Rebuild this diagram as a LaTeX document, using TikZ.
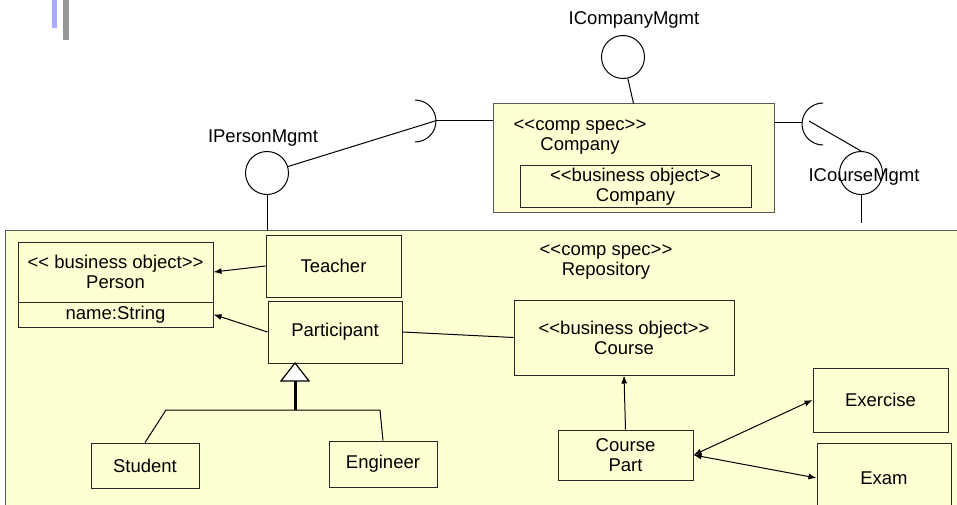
\documentclass[tikz,border=0pt]{standalone}
\usepackage{fontspec}
\setmainfont{Liberation Sans}
\usepackage{tikz}
\usetikzlibrary{arrows.meta, calc, positioning}

\definecolor{specfill}{RGB}{255,255,212}
\definecolor{barblue}{RGB}{170,170,255}
\definecolor{bargray}{RGB}{150,150,150}

% guillemet-free stereotype brackets
\newcommand{\lguil}{<\kern0pt<}
\newcommand{\rguil}{>\kern0pt>}

\begin{document}
\begin{tikzpicture}[x=1pt, y=-1pt,
    every node/.style={font=\fontsize{18.5}{20}\selectfont, align=center, inner sep=0pt},
    spec/.style={draw=black!65, fill=specfill, line width=1pt},
    cls/.style={draw=black!85, line width=1pt},
    iface/.style={draw, circle, minimum size=43pt, line width=1pt},
    link/.style={line width=1pt},
    dep/.style={line width=1pt, -{Latex[length=8pt, width=6pt]}},
    biarrow/.style={line width=1pt, {Latex[length=8pt, width=6pt]}-{Latex[length=8pt, width=6pt]}}]
  \useasboundingbox (0,0) rectangle (957,505);
  \clip (0,0) rectangle (957,505);
  % slide marks
  \fill[barblue] (52,0) rectangle (57,28);
  \fill[bargray] (63,0) rectangle (69,40);
  % repository component
  \node[spec, minimum width=957pt, minimum height=290pt] (repo) at (483.5,375) {};
  \node (repotitle) at (606,262) {\lguil comp spec\rguil\\Repository};
  % company component
  \node[spec, minimum width=281pt, minimum height=108pt] (company) at (633.5,158) {};
  \node (comptitle) at (580,137) {\lguil comp spec\rguil\\Company};
  \node[cls, minimum width=231pt, minimum height=41pt] (companybo) at (635.5,186.5) {\lguil business object\rguil\\Company};
  % classes
  \node[cls, minimum width=195pt, minimum height=60pt] (person) at (115.5,272) {\lguil{} business object\rguil\\Person};
  \node[cls, minimum width=195pt, minimum height=25pt] (nameattr) at (115.5,314.5) {name:String};
  \node[cls, minimum width=135pt, minimum height=62pt] (teacher) at (333.5,266) {Teacher};
  \node[cls, minimum width=134pt, minimum height=62pt] (participant) at (335,332) {Participant};
  \node[cls, minimum width=108pt, minimum height=45pt] (student) at (145,465.5) {Student};
  \node[cls, minimum width=108pt, minimum height=46pt] (engineer) at (383,464) {Engineer};
  \node[cls, minimum width=220pt, minimum height=75pt] (course) at (624,337.5) {\lguil business object\rguil\\Course};
  \node[cls, minimum width=135pt, minimum height=50pt] (coursepart) at (625.5,455) {Course\\Part};
  \node[cls, minimum width=135pt, minimum height=64pt] (exercise) at (880.5,400) {Exercise};
  \node[cls, minimum width=134pt, minimum height=70pt] (exam) at (884,478) {Exam};
  % associations
  \draw[dep] (teacher.west) -- (person.east);
  \draw[dep] (participant.west) -- (nameattr.east);
  \draw[link] (participant.east) -- (course.west);
  \draw[dep] (coursepart.north) -- (course.south);
  \draw[biarrow] (coursepart.east) -- (exercise.west);
  \draw[biarrow] (coursepart.east) -- (exam.west);
  % generalization
  \coordinate (genapex) at (295,363);
  \coordinate (fork) at (295,410);
  \coordinate (forkl) at (166,410);
  \coordinate (forkr) at (380,410);
  \draw[line width=3pt] (fork) -- ($(genapex)+(0,18)$);
  \draw[line width=1.2pt, fill=white, line join=miter] (genapex) -- ++(-14,18) -- ++(28,0) -- cycle;
  \draw[link] (student.north) -- (forkl) -- (forkr) -- (engineer.north);
  % provided interfaces
  \node[iface] (ipm) at (267,173) {};
  \node (ipmlabel) at (263,138) {IPersonMgmt};
  \node[iface] (icm) at (623,57) {};
  \node (icmlabel) at (634,20) {ICompanyMgmt};
  \node (icrmlabel) at (864,177) {ICourseMgmt};
  \node[iface] (icrm) at (861,173) {};
  \draw[link] (ipm.south) -- (ipm.south |- repo.north);
  \draw[link] (icm) -- (company.north);
  \coordinate (icrmend) at (861,223);
  \draw[link] (icrm.south) -- (icrmend);
  % required interfaces (sockets); y points down, so angle 90 is the bottom
  \coordinate (lsock) at (435,121);
  \draw[link] (415,142) arc (90:-90:21);
  \draw[link] (ipm) -- (lsock);
  \draw[link] (lsock) -- (lsock -| company.west);
  \coordinate (rsock) at (802,123);
  \coordinate (rsockin) at (809,121);
  \draw[link] (823,145) arc (90:270:21);
  \draw[link] (company.east |- rsock) -- (rsock);
  \draw[link] (rsockin) -- (icrm.north);
\end{tikzpicture}
\end{document}
